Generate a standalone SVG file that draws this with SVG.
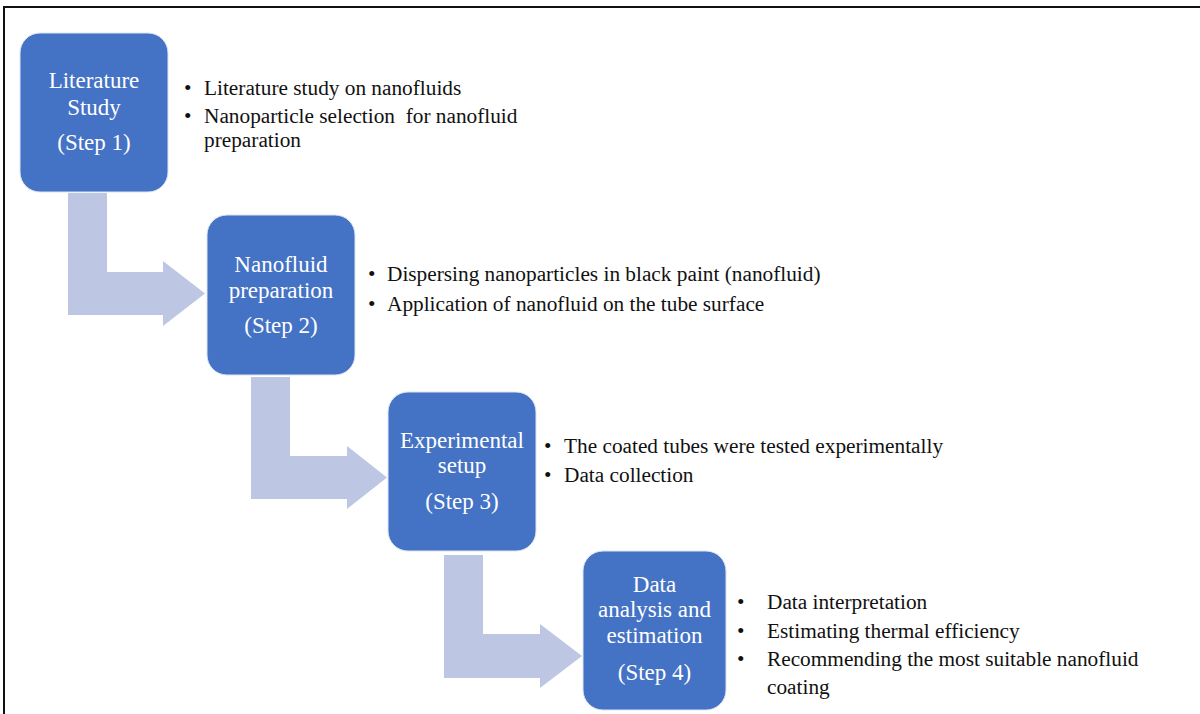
<svg xmlns="http://www.w3.org/2000/svg" width="1200" height="714" viewBox="0 0 1200 714">
  <style>
    .box { fill: #4472C4; stroke: #DCE4F2; stroke-width: 1; }
    .arrow { fill: #BDC7E3; }
    .title { font-family: "Liberation Serif", "Times New Roman", serif; font-size: 23px; fill: #FFFFFF; text-anchor: middle; }
    .item { font-family: "Liberation Serif", "Times New Roman", serif; font-size: 21.3px; fill: #111111; }
  </style>
  <rect x="0" y="0" width="1200" height="714" fill="#FFFFFF"/>
  <!-- outer frame -->
  <rect x="4" y="7" width="1220" height="730" fill="none" stroke="#111111" stroke-width="2"/>

  <!-- bent arrows between steps -->
  <g id="connectors">
    <path class="arrow" d="M68,193 H107 V272 H163 V261 L205,293.5 L163,326 V315 H68 Z"/>
    <path class="arrow" d="M251,377 H290 V456 H347 V446 L387,477.5 L347,509 V499 H251 Z"/>
    <path class="arrow" d="M444,555 H483 V634 H540 V624 L582,656 L540,688 V678 H444 Z"/>
  </g>

  <g id="step1">
    <rect class="box" x="20" y="33" width="148" height="159" rx="20"/>
    <text class="title" x="94" y="88">Literature</text>
    <text class="title" x="94" y="115">Study</text>
    <text class="title" x="94" y="150">(Step 1)</text>
    <text class="item" x="184" y="95">•</text>
    <text class="item" x="204" y="95">Literature study on nanofluids</text>
    <text class="item" x="184" y="123">•</text>
    <text class="item" x="204" y="123" xml:space="preserve">Nanoparticle selection  for nanofluid</text>
    <text class="item" x="204" y="147">preparation</text>
  </g>

  <g id="step2">
    <rect class="box" x="207" y="215" width="148" height="160" rx="20"/>
    <text class="title" x="281" y="272">Nanofluid</text>
    <text class="title" x="281" y="298">preparation</text>
    <text class="title" x="281" y="333">(Step 2)</text>
    <text class="item" x="368" y="281">•</text>
    <text class="item" x="387" y="281">Dispersing nanoparticles in black paint (nanofluid)</text>
    <text class="item" x="368" y="311">•</text>
    <text class="item" x="387" y="311">Application of nanofluid on the tube surface</text>
  </g>

  <g id="step3">
    <rect class="box" x="388" y="392" width="148" height="159" rx="20"/>
    <text class="title" x="462" y="448">Experimental</text>
    <text class="title" x="462" y="473">setup</text>
    <text class="title" x="462" y="509">(Step 3)</text>
    <text class="item" x="544" y="453">•</text>
    <text class="item" x="564" y="453">The coated tubes were tested experimentally</text>
    <text class="item" x="544" y="482">•</text>
    <text class="item" x="564" y="482">Data collection</text>
  </g>

  <g id="step4">
    <rect class="box" x="583" y="551" width="143" height="159" rx="20"/>
    <text class="title" x="654.5" y="592">Data</text>
    <text class="title" x="654.5" y="617">analysis and</text>
    <text class="title" x="654.5" y="643">estimation</text>
    <text class="title" x="654.5" y="680">(Step 4)</text>
    <text class="item" x="737" y="609">•</text>
    <text class="item" x="767" y="609">Data interpretation</text>
    <text class="item" x="737" y="638">•</text>
    <text class="item" x="767" y="638">Estimating thermal efficiency</text>
    <text class="item" x="737" y="666">•</text>
    <text class="item" x="767" y="666">Recommending the most suitable nanofluid</text>
    <text class="item" x="767" y="694">coating</text>
  </g>
</svg>
